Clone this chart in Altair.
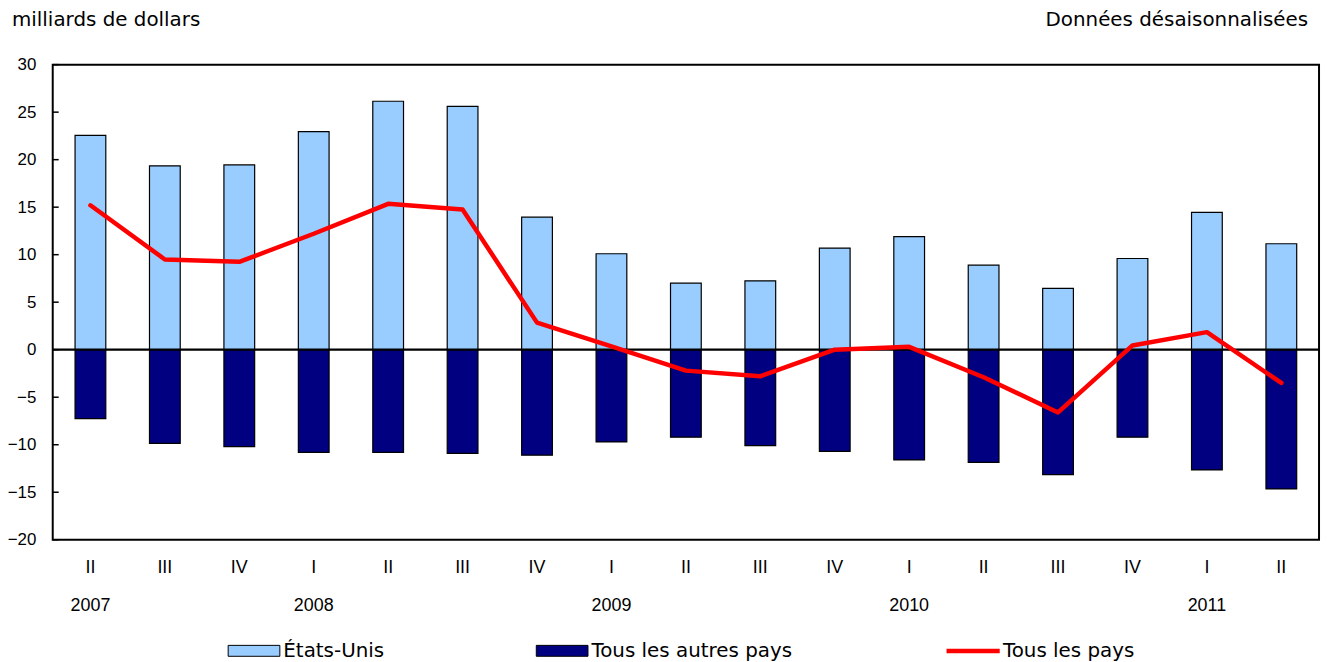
import altair as alt
import pandas as pd

quarters = ["II", "III", "IV", "I", "II", "III", "IV", "I", "II", "III", "IV", "I", "II", "III", "IV", "I", "II"]
years = ["2007", "", "", "2008", "", "", "", "2009", "", "", "", "2010", "", "", "", "2011", ""]
us = [22.55, 19.35, 19.45, 22.95, 26.15, 25.6, 13.95, 10.1, 7.0, 7.25, 10.7, 11.9, 8.9, 6.45, 9.6, 14.45, 11.15]
others = [-7.25, -9.85, -10.2, -10.8, -10.8, -10.9, -11.1, -9.7, -9.2, -10.1, -10.7, -11.6, -11.85, -13.15, -9.2, -12.65, -14.65]
total = [15.2, 9.5, 9.25, 12.2, 15.35, 14.75, 2.85, 0.35, -2.2, -2.8, 0.0, 0.3, -2.9, -6.6, 0.45, 1.85, -3.5]
series_names = ["États-Unis", "Tous les autres pays"]
line_name = "Tous les pays"
y_ticks = [-20, -15, -10, -5, 0, 5, 10, 15, 20, 25, 30]

keys = [f"{i}|{q}|{y}" for i, (q, y) in enumerate(zip(quarters, years))]

bars_df = pd.DataFrame(
    [{"key": k, "series": series_names[0], "value": v} for k, v in zip(keys, us)]
    + [{"key": k, "series": series_names[1], "value": v} for k, v in zip(keys, others)]
)
line_df = pd.DataFrame({"key": keys, "total": total, "name": line_name})
zero_df = pd.DataFrame({"v": [0]})
ticks_df = pd.DataFrame({"v": y_ticks})
title_l = pd.DataFrame({"t": ["milliards de dollars"]})
title_r = pd.DataFrame({"t": ["Données désaisonnalisées"]})

W, H = 1274, 478
yscale = alt.Scale(domain=[-20, 30], nice=False, zero=False)
xscale = alt.Scale(paddingInner=0.587, paddingOuter=0.3)

yaxis = alt.Axis(
    values=y_ticks,
    labelFont="Liberation Sans",
    labelFontSize=17,
    labelColor="black",
    labelPadding=17,
    ticks=False,
    tickSize=0,
    domain=False,
    grid=False,
)

X = alt.X(
    "key:N",
    sort=keys,
    scale=xscale,
    title=None,
    axis=alt.Axis(
        labelExpr="slice(split(datum.value, '|'), 1)",
        labelAngle=0,
        labelBaseline="top",
        labelLineHeight=38,
        labelPadding=19,
        labelFont="Liberation Sans",
        labelFontSize=18,
        labelColor="black",
        ticks=False,
        tickSize=0,
        domain=False,
        grid=False,
    ),
)

legend_common = dict(
    title=None,
    orient="none",
    legendY=563,
    symbolSize=2704,
    symbolOpacity=1,
    labelFont="DejaVu Sans",
    labelFontSize=20,
    labelColor="black",
    labelOffset=3,
    labelLimit=400,
)

bars = alt.Chart(bars_df).mark_bar(stroke="black", strokeWidth=1.2).encode(
    x=X,
    y=alt.Y("value:Q", stack=None, scale=yscale, title=None, axis=yaxis),
    fill=alt.Fill(
        "series:N",
        scale=alt.Scale(domain=series_names, range=["#99CCFF", "#000080"]),
        legend=alt.Legend(
            legendX=176,
            direction="horizontal",
            columns=2,
            columnPadding=150,
            gridAlign="each",
            symbolType="M-1,-0.2115H1V0.2115H-1Z",
            symbolStrokeColor="black",
            symbolStrokeWidth=1,
            **legend_common,
        ),
    ),
)

yticks = alt.Chart(ticks_df).mark_rule(color="black", strokeWidth=1.5).encode(
    y=alt.Y("v:Q", scale=yscale, title=None, axis=yaxis),
    x=alt.value(0),
    x2=alt.value(6),
)

zero = alt.Chart(zero_df).mark_rule(color="black", strokeWidth=2.2).encode(
    y=alt.Y("v:Q", scale=yscale, title=None, axis=yaxis)
)

line = alt.Chart(line_df).mark_line(strokeWidth=4.5, strokeCap="round", strokeJoin="round").encode(
    x=X,
    y=alt.Y("total:Q", scale=yscale, title=None, axis=yaxis),
    stroke=alt.Stroke(
        "name:N",
        scale=alt.Scale(domain=[line_name], range=["#FF0000"]),
        legend=alt.Legend(
            legendX=899,
            symbolType="M-1,-0.06H1V0.06H-1Z",
            symbolFillColor="#FF0000",
            symbolStrokeWidth=1.5,
            **legend_common,
        ),
    ),
)

tl = alt.Chart(title_l).mark_text(
    align="left", baseline="middle", font="DejaVu Sans", fontSize=20, color="black"
).encode(x=alt.value(-41), y=alt.value(-45), text="t:N")

tr = alt.Chart(title_r).mark_text(
    align="right", baseline="middle", font="DejaVu Sans", fontSize=20, color="black"
).encode(x=alt.value(W - 11), y=alt.value(-45), text="t:N")

chart = (
    alt.layer(bars, yticks, zero, line, tl, tr)
    .resolve_legend(fill="independent", stroke="independent")
    .properties(
        width=W,
        height=H,
        autosize=alt.AutoSizeParams(type="none"),
        padding={"left": 45, "top": 55, "right": 5, "bottom": 120},
        background="white",
    )
    .configure_view(stroke="black", strokeWidth=2)
)

chart.save("out.html", embed_options={"renderer": "svg", "actions": False})
